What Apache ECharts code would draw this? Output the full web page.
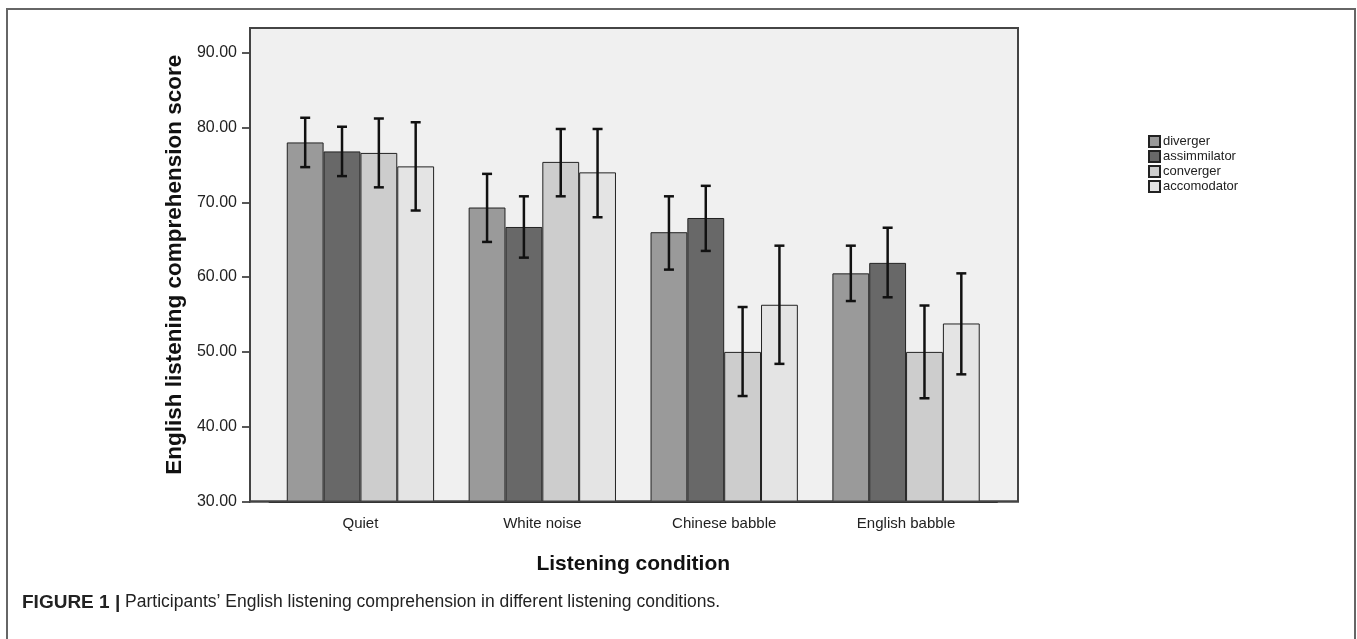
<!DOCTYPE html>
<html><head><meta charset="utf-8">
<script src="https://cdn.jsdelivr.net/npm/echarts@6/dist/echarts.min.js"></script>
<style>html,body{margin:0;padding:0;background:#fff}#c{width:1357px;height:639px}</style>
</head><body><div id="c"></div>
<script>
const categories = ['Quiet', 'White noise', 'Chinese babble', 'English babble'];
const seriesNames = ['diverger', 'assimmilator', 'converger', 'accomodator'];
const diverger = [78.0, 69.3, 66.0, 60.5];
const assimmilator = [76.8, 66.7, 67.9, 61.9];
const converger = [76.6, 75.4, 50.0, 50.0];
const accomodator = [74.8, 74.0, 56.3, 53.8];
const divergerLow = [74.7, 64.7, 61.0, 56.8];
const divergerHigh = [81.3, 73.8, 70.8, 64.2];
const assimmilatorLow = [73.5, 62.6, 63.5, 57.3];
const assimmilatorHigh = [80.1, 70.8, 72.2, 66.6];
const convergerLow = [72.0, 70.8, 44.1, 43.8];
const convergerHigh = [81.2, 79.8, 56.0, 56.2];
const accomodatorLow = [68.9, 68.0, 48.4, 47.0];
const accomodatorHigh = [80.7, 79.8, 64.2, 60.5];
const yTicks = [30, 40, 50, 60, 70, 80, 90];

const values = [diverger, assimmilator, converger, accomodator];
const lows = [divergerLow, assimmilatorLow, convergerLow, accomodatorLow];
const highs = [divergerHigh, assimmilatorHigh, convergerHigh, accomodatorHigh];
const colors = ['#9a9a9a', '#686868', '#cdcdcd', '#e4e4e4'];
const barFrac = 0.2025;

const chart = echarts.init(document.getElementById('c'));
const series = [];
values.forEach((v, i) => {
  series.push({
    name: seriesNames[i], type: 'bar', data: v, barWidth: (barFrac * 100) + '%', barGap: '0%',
    itemStyle: { color: colors[i], borderColor: '#222', borderWidth: 1 },
    emphasis: { disabled: true }, z: 3
  });
});
values.forEach((v, i) => {
  series.push({
    type: 'custom', silent: true, z: 5,
    data: categories.map((c, k) => [k, lows[i][k], highs[i][k]]),
    encode: { x: 0, y: [1, 2] },
    renderItem: (params, api) => {
      const k = api.value(0);
      const lo = api.coord([k, api.value(1)]);
      const hi = api.coord([k, api.value(2)]);
      const bw = api.size([1, 0])[0];
      const x = lo[0] + (i - 1.5) * bw * barFrac;
      const cap = 5;
      const st = { stroke: '#111', lineWidth: 2.5 };
      return { type: 'group', children: [
        { type: 'line', shape: { x1: x, y1: lo[1], x2: x, y2: hi[1] }, style: st },
        { type: 'line', shape: { x1: x - cap, y1: lo[1], x2: x + cap, y2: lo[1] }, style: st },
        { type: 'line', shape: { x1: x - cap, y1: hi[1], x2: x + cap, y2: hi[1] }, style: st }
      ]};
    }
  });
});

chart.setOption({
  animation: false,
  backgroundColor: '#fff',
  textStyle: { fontFamily: 'Liberation Sans, Arial, sans-serif' },
  grid: { left: 269.5, right: 360, top: 28, bottom: 137.5 },
  legend: {
    data: seriesNames, orient: 'vertical', left: 1143, top: 130,
    itemWidth: 11, itemHeight: 11, itemGap: 2, icon: 'rect', selectedMode: false,
    textStyle: { fontSize: 13, color: '#222', padding: [0, 0, 0, -2] }
  },
  xAxis: {
    type: 'category', data: categories,
    axisLine: { show: true, lineStyle: { color: '#222', width: 2 } },
    axisTick: { alignWithLabel: true, length: 10, lineStyle: { color: '#222', width: 1.5 } },
    axisLabel: { fontSize: 15, color: '#222', margin: 15, fontFamily: 'Liberation Sans, Arial, sans-serif' },
    name: 'Listening condition', nameLocation: 'middle', nameGap: 52,
    nameTextStyle: { fontSize: 21, fontWeight: 'bold', color: '#111' }
  },
  yAxis: {
    type: 'value', min: 30, max: 93.3, interval: 10, offset: 19.5,
    axisLine: { show: true, lineStyle: { color: '#222', width: 2 } },
    axisTick: { show: true, length: 8, customValues: yTicks, lineStyle: { color: '#222', width: 1.5 } },
    axisLabel: { fontSize: 16, color: '#222', margin: 13, customValues: yTicks, formatter: v => v.toFixed(2) },
    splitLine: { show: false },
    name: 'English listening comprehension score', nameLocation: 'middle', nameGap: 54,
    nameTextStyle: { fontSize: 22.5, fontWeight: 'bold', color: '#111' }
  },
  graphic: [
    { type: 'rect', z: -10, silent: true, shape: { x: 250, y: 28, width: 768, height: 473.5 },
      style: { fill: '#f0f0f0', stroke: '#444', lineWidth: 2 } },
    { type: 'rect', z: 100, silent: true, shape: { x: 250, y: 28, width: 768, height: 473.5 },
      style: { fill: null, stroke: '#444', lineWidth: 2 } },
    { type: 'rect', z: -20, silent: true, shape: { x: 7, y: 9, width: 1348, height: 700 },
      style: { fill: null, stroke: '#666', lineWidth: 2 } },
    { type: 'text', left: 22, top: 593, z: 10, silent: true,
      style: { rich: { b: { fontWeight: 'bold', fontSize: 19, fill: '#222', fontFamily: 'Liberation Sans, Arial' },
                       n: { fontSize: 17.5, fill: '#222', fontFamily: 'Liberation Sans Narrow, Liberation Sans, Arial' } },
        text: '{b|FIGURE 1 |}{n| Participants\u2019 English listening comprehension in different listening conditions.}' } }
  ],
  series: series
});
</script></body></html>
